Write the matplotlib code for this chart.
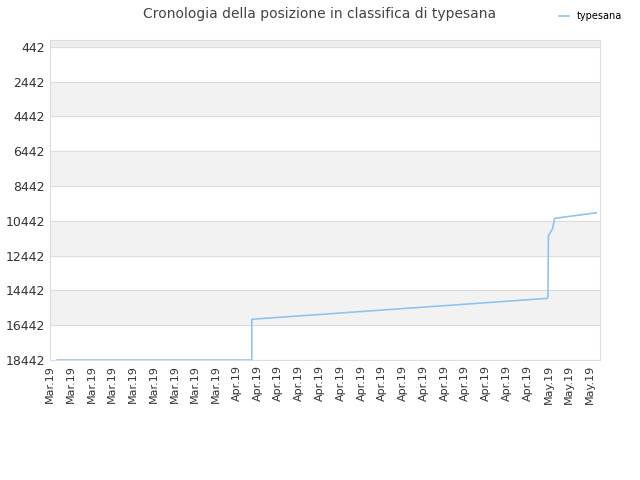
import matplotlib
matplotlib.use("Agg")
import matplotlib.pyplot as plt

tick_labels = ["Mar.19"]*9 + ["Apr.19"]*15 + ["May.19"]*3
# x in tick-index units, y = ranking position
xs = [0.35, 9.72, 9.72, 23.95, 23.98, 24.0, 24.2, 24.3, 26.3]
ys = [18442, 18442, 16100, 14900, 14800, 11300, 10900, 10300, 9980]
yticks = list(range(442, 18443, 2000))

fig = plt.figure(figsize=(6.4, 4.8), dpi=100)
ax = fig.add_axes([0.078, 0.25, 0.86, 0.667])
for i, t in enumerate(yticks[:-1]):
    if i % 2 == 1:
        ax.axhspan(t, t + 2000, color="#f2f2f2", zorder=0)
ax.axhspan(-400, 442, color="#eeeeee", zorder=0)
ax.plot(xs, ys, color="#90c4f0", lw=1.2, label="typesana")
ax.set_ylim(18442, 40)
ax.set_yticks(yticks)
ax.set_yticklabels([str(t) for t in yticks], fontsize=9, color="#333333")
ax.set_xlim(0, 26.5)
ax.set_xticks(range(len(tick_labels)))
ax.set_xticklabels(tick_labels, rotation=90, fontsize=8, color="#333333")
ax.grid(axis="y", color="#dddddd", lw=0.8)
ax.set_axisbelow(True)
for s in ax.spines.values():
    s.set_color("#dddddd")
ax.tick_params(length=0)
fig.suptitle("Cronologia della posizione in classifica di typesana", x=0.5, y=0.985, fontsize=10, color="#444444")
fig.legend(loc="upper right", bbox_to_anchor=(0.985, 0.995), frameon=False, fontsize=7, handlelength=1)
fig.savefig("out.png")
